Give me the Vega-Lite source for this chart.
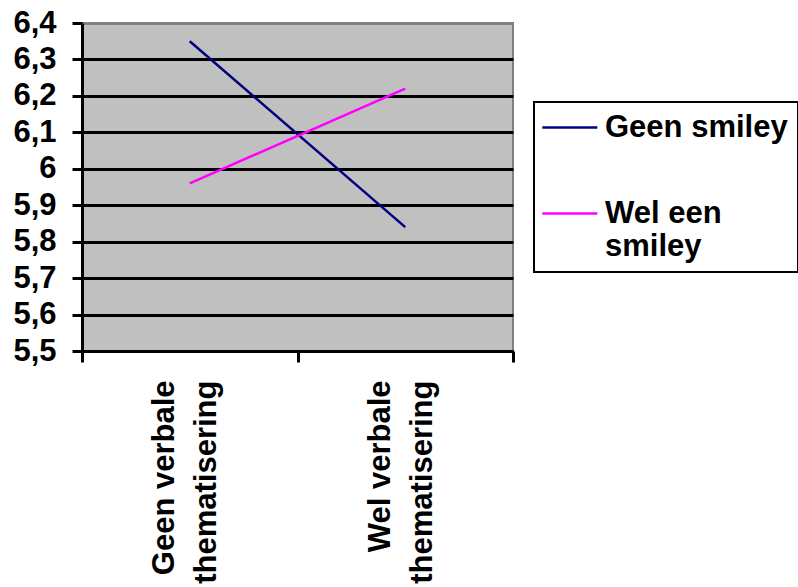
{
  "$schema": "https://vega.github.io/schema/vega-lite/v6.json",
  "autosize": "none",
  "width": 431,
  "height": 328,
  "padding": {"left": 82, "top": 23, "right": 285, "bottom": 236},
  "background": "white",
  "config": {
    "font": "Liberation Sans",
    "view": {"fill": "#c0c0c0", "stroke": "#808080", "strokeWidth": 2},
    "axis": {
      "labelFont": "Liberation Sans",
      "labelFontWeight": "bold",
      "labelFontSize": 31,
      "labelColor": "black",
      "domainColor": "black",
      "domainWidth": 3,
      "tickColor": "black",
      "tickWidth": 3,
      "title": null
    },
    "legend": {
      "labelFont": "Liberation Sans",
      "labelFontWeight": "bold",
      "labelFontSize": 31,
      "labelColor": "black"
    }
  },
  "data": {
    "values": [
      {"series": "Geen smiley", "conditie": "Geen verbale thematisering", "score": 6.35},
      {"series": "Geen smiley", "conditie": "Wel verbale thematisering", "score": 5.84},
      {"series": "Wel een smiley", "conditie": "Geen verbale thematisering", "score": 5.96},
      {"series": "Wel een smiley", "conditie": "Wel verbale thematisering", "score": 6.22}
    ]
  },
  "mark": {"type": "line", "strokeWidth": 2.5},
  "encoding": {
    "x": {
      "field": "conditie",
      "type": "nominal",
      "sort": ["Geen verbale thematisering", "Wel verbale thematisering"],
      "scale": {"paddingInner": 0, "paddingOuter": 0},
      "axis": {
        "labelAngle": -90,
        "labelAlign": "right",
        "labelBaseline": "middle",
        "labelLineHeight": 42,
        "labelLimit": 400,
        "labelOffset": -25,
        "labelExpr": "datum.label == 'Geen verbale thematisering' ? ['Geen verbale', 'thematisering'] : datum.label == 'Wel verbale thematisering' ? ['Wel verbale', 'thematisering'] : ''",
        "tickBand": "extent",
        "tickSize": 11,
        "labelPadding": 18,
        "grid": false
      }
    },
    "y": {
      "field": "score",
      "type": "quantitative",
      "scale": {"domain": [5.5, 6.4], "nice": false, "zero": false},
      "axis": {
        "values": [5.5, 5.6, 5.7, 5.8, 5.9, 6.0, 6.1, 6.2, 6.3, 6.4],
        "labelExpr": "replace(format(datum.value, '.1~f'), '.', ',')",
        "tickSize": 10,
        "labelPadding": 16,
        "grid": true,
        "gridColor": {"condition": {"test": "datum.value > 6.39", "value": "#808080"}, "value": "black"},
        "gridWidth": 3,
        "gridOpacity": 1
      }
    },
    "color": {
      "field": "series",
      "type": "nominal",
      "scale": {"domain": ["Geen smiley", "Wel een smiley"], "range": ["#000080", "#ff00ff"]},
      "legend": {
        "title": null,
        "orient": "none",
        "legendX": 452,
        "legendY": 79,
        "symbolType": "M-1.25,0H2.75",
        "symbolSize": 756,
        "symbolStrokeWidth": 2.5,
        "labelOffset": 30,
        "padding": 10,
        "rowPadding": 54,
        "strokeColor": "black",
        "labelLimit": 400,
        "labelBaseline": "middle",
        "labelExpr": "datum.label == 'Wel een smiley' ? ['Wel een', 'smiley'] : datum.label",
        "encode": {
          "legend": {"update": {"strokeWidth": {"value": 2}}},
          "labels": {"update": {"lineHeight": {"value": 33}}}
        }
      }
    }
  }
}
